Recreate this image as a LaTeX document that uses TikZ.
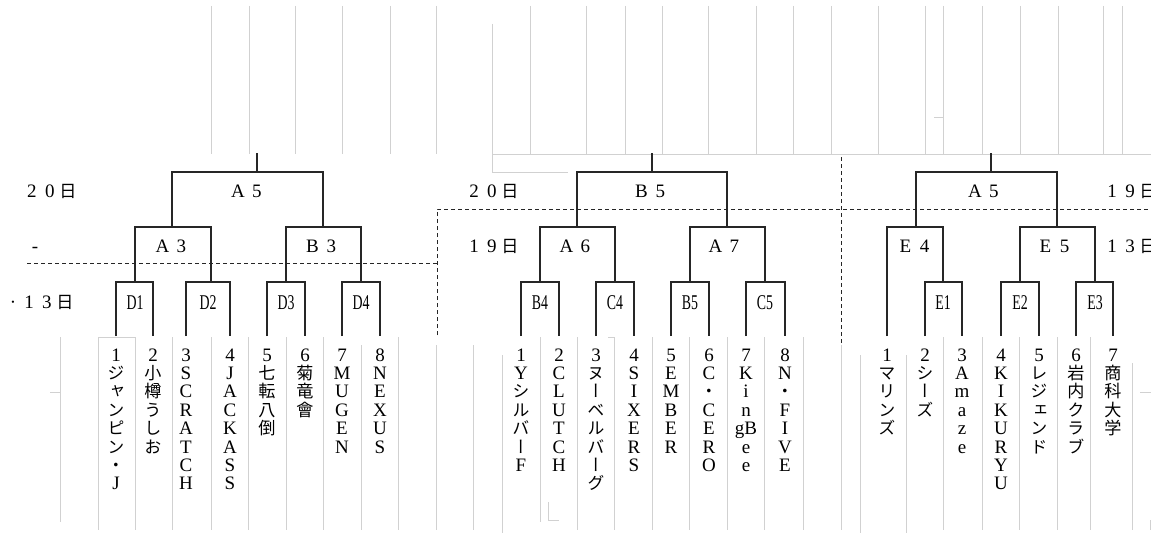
\documentclass[tikz,border=0pt]{standalone}
\usepackage{fontspec}
\usepackage{graphicx}
\setmainfont{Liberation Serif}
\newfontfamily\jp[RawFeature=+vert,Scale=0.9]{Noto Sans CJK JP}
\ExplSyntaxOn
\cs_new:Npn \rs_char:n #1
  {
    \tl_if_single_token:nTF {#1}
      { \int_compare:nNnTF { `#1 } > { 255 } { { \jp #1 } } { #1 } }
      { #1 }
  }
\NewDocumentCommand \vstack { m }
  {
    \vtop
      {
        \baselineskip=18.4pt \lineskiplimit=-100pt \lineskip=0pt
        \tl_map_inline:nn {#1} { \hbox_to_wd:nn {20pt} { \hss \rs_char:n {##1} \hss } }
      }
  }
\NewDocumentCommand \hspc { m m }
  { \tl_map_inline:nn {#2} { \hbox_to_wd:nn {#1} { \hss \rs_char:n {##1} \hss } } }
\ExplSyntaxOff
\begin{document}
\begin{tikzpicture}[x=1pt,y=-1pt,
  grid/.style={draw=black!18, line width=1pt},
  br/.style={draw=black!85, line width=1.2pt},
  dsh/.style={draw=black!85, line width=1pt, dash pattern=on 4pt off 3pt},
  lbl/.style={inner sep=0pt, anchor=base, font=\fontsize{19}{19}\selectfont},
  boxlbl/.style={inner sep=0pt, anchor=base, font=\fontsize{21}{21}\selectfont},
  team/.style={inner sep=0pt, anchor=base, font=\fontsize{19}{19}\selectfont}]
\useasboundingbox (0,0) rectangle (1151,535);
\fill[white] (0,0) rectangle (1151,535);
% grey grid, top
\foreach \x in {211,249,295,342,390,436,530,586,625,662,708,756,793,831,878,925,943,982,1020,1058,1103,1122}
  \draw[grid] (\x,6) -- (\x,154);
\draw[grid] (492,24) -- (492,172) -- (568,172);
\draw[grid] (492,154) -- (1151,154);
\draw[grid] (934,117) -- (943,117);
% grey grid, bottom
\foreach \x/\a/\b in {60/337/522, 98/337/530, 135/337/530, 172/337/530, 211/337/530, 248/337/530, 286/337/530, 323/337/530, 361/345/530, 398/337/530, 436/345/530, 473/345/530, 502/355/533, 540/337/522, 577/337/530, 614/337/530, 652/337/530, 689/337/530, 727/337/530, 764/337/530, 803/337/530, 841/345/530, 860/355/533, 906/355/533, 943/337/530, 982/337/530, 1019/337/530, 1057/337/530, 1090/337/530, 1132/363/530}
  \draw[grid] (\x,\a) -- (\x,\b);
\draw[grid] (50,392) -- (60,392);
\draw[grid] (98,337) -- (135,337);
\draw[grid] (608,337) -- (614,337);
\draw[grid] (548,502) -- (548,520) -- (559,520);
\draw[grid] (1140,392) -- (1151,392);
\draw[grid] (1150,520) -- (1150,530);
% dashed separators
\draw[dsh] (27,263) -- (437,263);
\draw[dsh] (437,335) -- (437,209) -- (1151,209);
\draw[dsh] (841,157) -- (841,345);
% team line ends
\foreach \n/\x in {L1/116,L2/153,L3/186,L4/230,L5/267,L6/305,L7/342,L8/380,
                   M1/521,M2/559,M3/596,M4/634,M5/671,M6/709,M7/746,M8/785,
                   R1/887,R2/925,R3/962,R4/1001,R5/1039,R6/1076,R7/1113}
  \coordinate (t\n) at (\x,336);
% match points
\coordinate (D1) at (135,282);  \coordinate (D2) at (211,282);
\coordinate (D3) at (286,282);  \coordinate (D4) at (361,282);
\coordinate (A3) at (172,227);  \coordinate (B3) at (323,227);
\coordinate (A5) at (257,172);  \coordinate (A5top) at (257,153);
\coordinate (B4) at (540,282);  \coordinate (C4) at (615,282);
\coordinate (B5m) at (690,282); \coordinate (C5) at (765,282);
\coordinate (A6) at (577,227);  \coordinate (A7) at (727,227);
\coordinate (B5) at (652,172);  \coordinate (B5top) at (652,153);
\coordinate (E1) at (943,282);  \coordinate (E2) at (1020,282);
\coordinate (E3) at (1095,282); \coordinate (E4) at (916,227);
\coordinate (E5) at (1057,227); \coordinate (A5R) at (991,172);
\coordinate (A5Rtop) at (991,153);
% brackets
\draw[br] (tL1) |- (D1) -| (tL2);
\draw[br] (tL3) |- (D2) -| (tL4);
\draw[br] (tL5) |- (D3) -| (tL6);
\draw[br] (tL7) |- (D4) -| (tL8);
\draw[br] (D1) |- (A3) -| (D2);
\draw[br] (D3) |- (B3) -| (D4);
\draw[br] (A3) |- (A5) -| (B3);
\draw[br] (A5) -- (A5top);
\draw[br] (tM1) |- (B4) -| (tM2);
\draw[br] (tM3) |- (C4) -| (tM4);
\draw[br] (tM5) |- (B5m) -| (tM6);
\draw[br] (tM7) |- (C5) -| (tM8);
\draw[br] (B4) |- (A6) -| (C4);
\draw[br] (B5m) |- (A7) -| (C5);
\draw[br] (A6) |- (B5) -| (A7);
\draw[br] (B5) -- (B5top);
\draw[br] (tR2) |- (E1) -| (tR3);
\draw[br] (tR4) |- (E2) -| (tR5);
\draw[br] (tR6) |- (E3) -| (tR7);
\draw[br] (tR1) |- (E4) -| (E1);
\draw[br] (E2) |- (E5) -| (E3);
\draw[br] (E4) |- (A5R) -| (E5);
\draw[br] (A5R) -- (A5Rtop);
% day labels
\node[lbl] (d1) at (50,197) {\hspc{18pt}{20日}};
\node[lbl] (d2) at (35,252) {-};
\node[lbl] (d3dot) at (13,308) {·};
\node[lbl] (d3) at (47,308) {\hspc{18pt}{13日}};
\node[lbl] (d4) at (492,197) {\hspc{18pt}{20日}};
\node[lbl] (d5) at (492,252) {\hspc{18pt}{19日}};
\node[lbl] (d6) at (1130,197) {\hspc{18pt}{19日}};
\node[lbl] (d7) at (1130,252) {\hspc{18pt}{13日}};
% match labels
\node[lbl] (lA5) at (247.5,197) {\hspc{19pt}{A5}};
\node[lbl] (lA3) at (172,252) {\hspc{19pt}{A3}};
\node[lbl] (lB3) at (322,252) {\hspc{19pt}{B3}};
\node[lbl] (lB5) at (651,197) {\hspc{19pt}{B5}};
\node[lbl] (lA6) at (576,252) {\hspc{19pt}{A6}};
\node[lbl] (lA7) at (725,252) {\hspc{19pt}{A7}};
\node[lbl] (lA5R) at (984.5,197) {\hspc{19pt}{A5}};
\node[lbl] (lE4) at (915,252) {\hspc{19pt}{E4}};
\node[lbl] (lE5) at (1055,252) {\hspc{19pt}{E5}};
\foreach \n/\x/\t in {bD1/135/D1, bD2/208/D2, bD3/286/D3, bD4/361/D4,
                      bB4/540/B4, bC4/615/C4, bB5/690/B5, bC5/765/C5,
                      bE1/943/E1, bE2/1020/E2, bE3/1095/E3}
  \node[boxlbl] (\n) at (\x,309) {\scalebox{0.66}[1]{\t}};
% teams
\node[team] (L1) at (116,361) {\vstack{1ジャンピン・J}};
\node[team] (L2) at (153,361) {\vstack{2小樽うしお}};
\node[team] (L3) at (186,361) {\vstack{3SCRATCH}};
\node[team] (L4) at (230,361) {\vstack{4JACKASS}};
\node[team] (L5) at (267,361) {\vstack{5七転八倒}};
\node[team] (L6) at (305,361) {\vstack{6菊竜會}};
\node[team] (L7) at (342,361) {\vstack{7MUGEN}};
\node[team] (L8) at (380,361) {\vstack{8NEXUS}};
\node[team] (M1) at (521,361) {\vstack{1Yシルバー F}};
\node[team] (M2) at (559,361) {\vstack{2CLUTCH}};
\node[team] (M3) at (596,361) {\vstack{3ヌーベルバーグ}};
\node[team] (M4) at (634,361) {\vstack{4SIXERS}};
\node[team] (M5) at (671,361) {\vstack{5EMBER}};
\node[team] (M6) at (709,361) {\vstack{6C・CERO}};
\node[team] (M7) at (746,361) {\vstack{7Kin{gB}ee}};
\node[team] (M8) at (785,361) {\vstack{8N・FIVE}};
\node[team] (R1) at (887,361) {\vstack{1マリンズ}};
\node[team] (R2) at (925,361) {\vstack{2シーズ}};
\node[team] (R3) at (962,361) {\vstack{3Amaze}};
\node[team] (R4) at (1001,361) {\vstack{4KIKURYU}};
\node[team] (R5) at (1039,361) {\vstack{5レジェンド}};
\node[team] (R6) at (1076,361) {\vstack{6岩内クラブ}};
\node[team] (R7) at (1113,361) {\vstack{7商科大学}};
\end{tikzpicture}
\end{document}
